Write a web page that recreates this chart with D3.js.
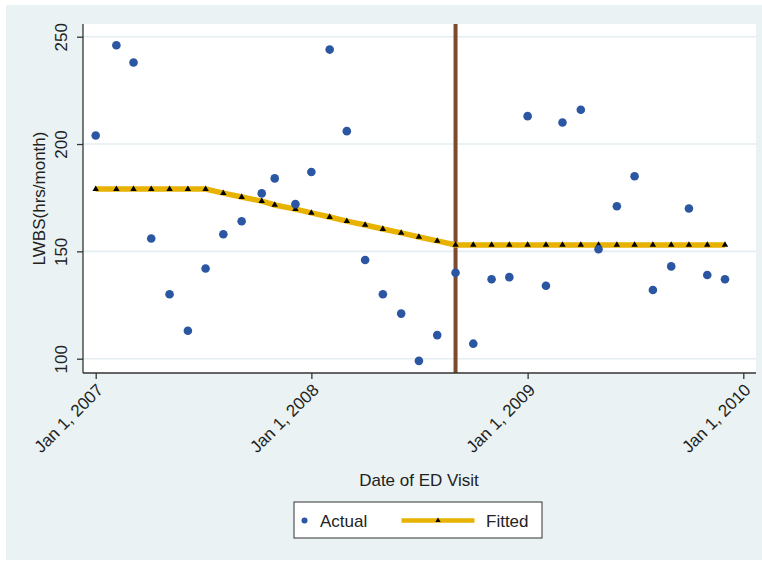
<!DOCTYPE html>
<html><head><meta charset="utf-8">
<script src="https://cdn.jsdelivr.net/npm/d3@7"></script>
<style>
html,body{margin:0;padding:0;background:#fff;}
text{font-family:"Liberation Sans",Arial,sans-serif;fill:#222;}
</style></head>
<body><svg id="c" width="762" height="564"></svg>
<script>
const dates = ["2007-01-01","2007-02-05","2007-03-06","2007-04-05","2007-05-06","2007-06-06","2007-07-06","2007-08-05","2007-09-05","2007-10-09","2007-10-31","2007-12-05",
"2008-01-01","2008-02-01","2008-03-01","2008-04-01","2008-05-01","2008-06-01","2008-07-01","2008-08-01","2008-09-01","2008-10-01","2008-11-01","2008-12-01",
"2009-01-01","2009-02-01","2009-03-01","2009-04-01","2009-05-01","2009-06-01","2009-07-01","2009-08-01","2009-09-01","2009-10-01","2009-11-01","2009-12-01"];
const actual = [204,246,238,156,130,113,142,158,164,177,184,172,
187,244,206,146,130,121,99,111,140,107,137,138,
213,134,210,216,151,171,185,132,143,170,139,137];
const fitted = [179,179,179,179,179,179,179,177.1,175.3,173.4,171.6,169.7,
167.9,166,164.1,162.3,160.4,158.6,156.7,154.9,153,153,153,153,
153,153,153,153,153,153,153,153,153,153,153,153];
const yTicks = [100,150,200,250];
const xTickDates = ["2007-01-01","2008-01-01","2009-01-01","2010-01-01"];
const interventionDate = "2008-09-01";
const seriesNames = ["Actual","Fitted"];
const xTitle = "Date of ED Visit";
const yTitle = "LWBS(hrs/month)";

const parseD = d3.timeParse("%Y-%m-%d");
const fmt = d3.timeFormat("%b %-d, %Y");
const data = dates.map((m,i)=>({date:parseD(m), a:actual[i], f:fitted[i]}));

const svg = d3.select("#c");
const W=762,H=564;
const plot = {l:83, t:24, r:756, b:373};
const colBlue="#2b56a2", colGold="#e8b200", colBrown="#7c4a2c";

svg.append("rect").attr("x",6).attr("y",5).attr("width",W-6).attr("height",555).attr("fill","#eaf2f3");
svg.append("rect").attr("x",plot.l).attr("y",plot.t).attr("width",plot.r-plot.l).attr("height",plot.b-plot.t).attr("fill","#fff");

const x = d3.scaleTime().domain([parseD(xTickDates[0]), parseD(xTickDates[3])]).range([95.7,743.3]);
const y = d3.scaleLinear().domain([100,250]).range([358.7,36.7]);

// gridlines
svg.append("g").selectAll("line").data(yTicks).join("line")
  .attr("x1",plot.l).attr("x2",plot.r).attr("y1",d=>y(d)).attr("y2",d=>y(d))
  .attr("stroke","#e4eef0").attr("stroke-width",1.6);

// intervention line
svg.append("line").attr("x1",x(parseD(interventionDate))).attr("x2",x(parseD(interventionDate)))
  .attr("y1",plot.t).attr("y2",plot.b).attr("stroke",colBrown).attr("stroke-width",4);

// axes
const yAxis = svg.append("g").attr("transform",`translate(${plot.l},0)`)
  .call(d3.axisLeft(y).tickValues(yTicks).tickSize(6).tickFormat(d3.format("d")));
yAxis.select(".domain").attr("d",`M0,${plot.t}V${plot.b}`).attr("stroke","#333").attr("stroke-width",1.3);
yAxis.selectAll(".tick line").attr("stroke","#333").attr("stroke-width",1.3);
yAxis.selectAll(".tick text").attr("x",0).attr("dy",null).attr("text-anchor","middle")
  .attr("transform","translate(-16,0) rotate(-90)").style("font-size","17px");

const xAxis = svg.append("g").attr("transform",`translate(0,${plot.b})`)
  .call(d3.axisBottom(x).tickValues(xTickDates.map(parseD)).tickSize(6).tickFormat(fmt));
xAxis.select(".domain").attr("d",`M${plot.l},0H${plot.r}`).attr("stroke","#333").attr("stroke-width",1.3);
xAxis.selectAll(".tick line").attr("stroke","#333").attr("stroke-width",1.3);
xAxis.selectAll(".tick text").attr("y",0).attr("dy",null).attr("text-anchor","end")
  .attr("transform","translate(8,18) rotate(-45)").style("font-size","17px");
svg.selectAll(".tick text").attr("fill","#222");

// titles
svg.append("text").attr("x",419).attr("y",486).attr("text-anchor","middle").style("font-size","17px").text(xTitle);
svg.append("text").attr("transform",`translate(45,${(plot.t+plot.b)/2}) rotate(-90)`).attr("text-anchor","middle").style("font-size","17px").text(yTitle);

// fitted line
svg.append("path").datum(data).attr("fill","none").attr("stroke",colGold).attr("stroke-width",5.5)
  .attr("d",d3.line().x(d=>x(d.date)).y(d=>y(d.f)));
const tri = d3.symbol().type(d3.symbolTriangle).size(18);
svg.append("g").selectAll("path").data(data).join("path")
  .attr("transform",d=>`translate(${x(d.date)},${y(d.f)})`).attr("d",tri).attr("fill","#000");

// actual points
svg.append("g").selectAll("circle").data(data).join("circle")
  .attr("cx",d=>x(d.date)).attr("cy",d=>y(d.a)).attr("r",4.3).attr("fill",colBlue);

// legend
const lg = svg.append("g");
lg.append("rect").attr("x",294).attr("y",502).attr("width",248).attr("height",36).attr("fill","#fff").attr("stroke","#333").attr("stroke-width",1);
lg.append("circle").attr("cx",304.5).attr("cy",520.5).attr("r",3).attr("fill",colBlue);
lg.append("text").attr("x",320).attr("y",527).style("font-size","17px").text(seriesNames[0]);
lg.append("line").attr("x1",401.5).attr("x2",474.5).attr("y1",520.5).attr("y2",520.5).attr("stroke",colGold).attr("stroke-width",4.5);
lg.append("path").attr("transform","translate(438,520.5)").attr("d",d3.symbol().type(d3.symbolTriangle).size(12)).attr("fill","#000");
lg.append("text").attr("x",486).attr("y",527).style("font-size","17px").text(seriesNames[1]);
</script></body></html>
